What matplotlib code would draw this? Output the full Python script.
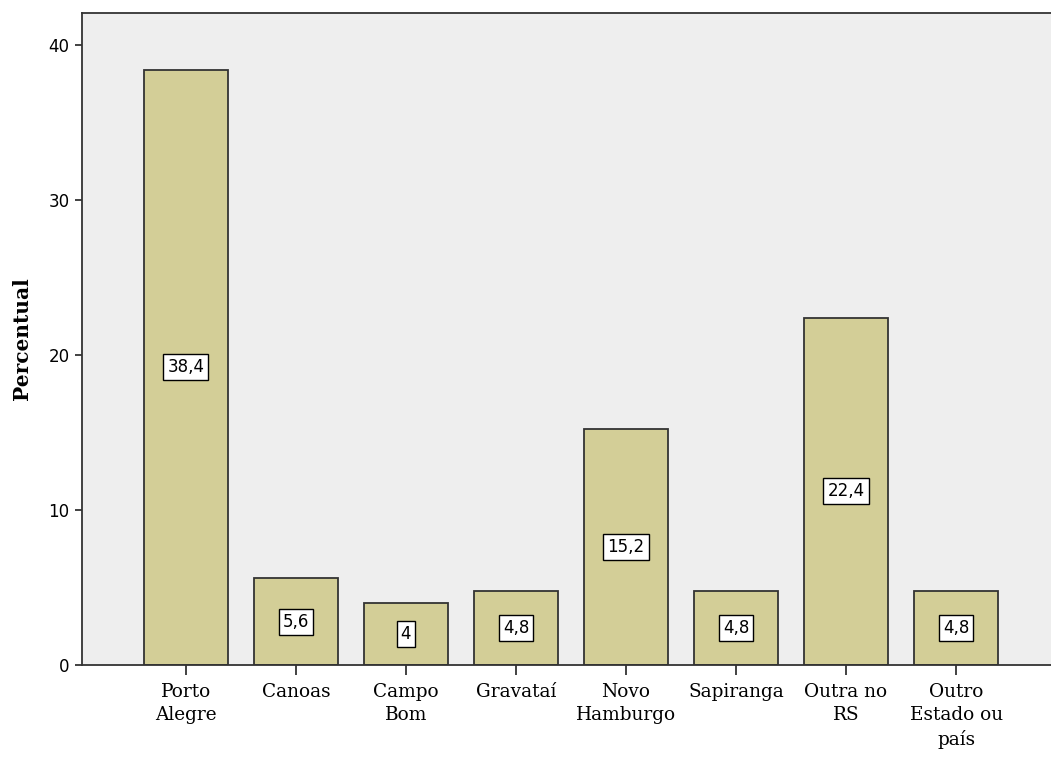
import matplotlib.pyplot as plt

# Percent of respondents by city
cidades = ["Porto\nAlegre", "Canoas", "Campo\nBom", "Gravataí", "Novo\nHamburgo",
           "Sapiranga", "Outra no\nRS", "Outro\nEstado ou\npaís"]
percentual = [38.4, 5.6, 4.0, 4.8, 15.2, 4.8, 22.4, 4.8]
rotulos = ["38,4", "5,6", "4", "4,8", "15,2", "4,8", "22,4", "4,8"]

fig = plt.figure(figsize=(10.51, 7.60), dpi=100)
ax = fig.add_axes([0.078, 0.125, 0.9306, 0.858])
ax.set_facecolor("#EEEEEE")

x = range(len(cidades))
ax.bar(x, percentual, width=0.76, color="#D3CE97", edgecolor="#333333", linewidth=1.3)

# value boxes at half height of each bar
for i, (v, txt) in enumerate(zip(percentual, rotulos)):
    ax.text(i, v / 2, txt, ha="center", va="center", fontsize=12,
            family="DejaVu Sans",
            bbox=dict(boxstyle="square,pad=0.24", fc="white", ec="black", lw=1))

ax.set_xlim(-0.945, 7.945)
ax.set_ylim(0, 42.06)
ax.set_yticks([0, 10, 20, 30, 40])
ax.set_yticklabels(["0", "10", "20", "30", "40"], family="DejaVu Sans", fontsize=12)
ax.set_xticks(list(x))
ax.set_xticklabels(cidades, family="DejaVu Serif", fontsize=13.3, linespacing=1.38)
ax.tick_params(axis="x", length=7, width=1.3, color="#333333", pad=6)
ax.tick_params(axis="y", length=5, width=1.3, color="#333333", pad=4)
ax.set_ylabel("Percentual", family="DejaVu Serif", fontweight="bold",
              fontsize=14.5, labelpad=12)

for s in ax.spines.values():
    s.set_color("#333333")
    s.set_linewidth(1.3)

fig.savefig("out.png", dpi=100)
